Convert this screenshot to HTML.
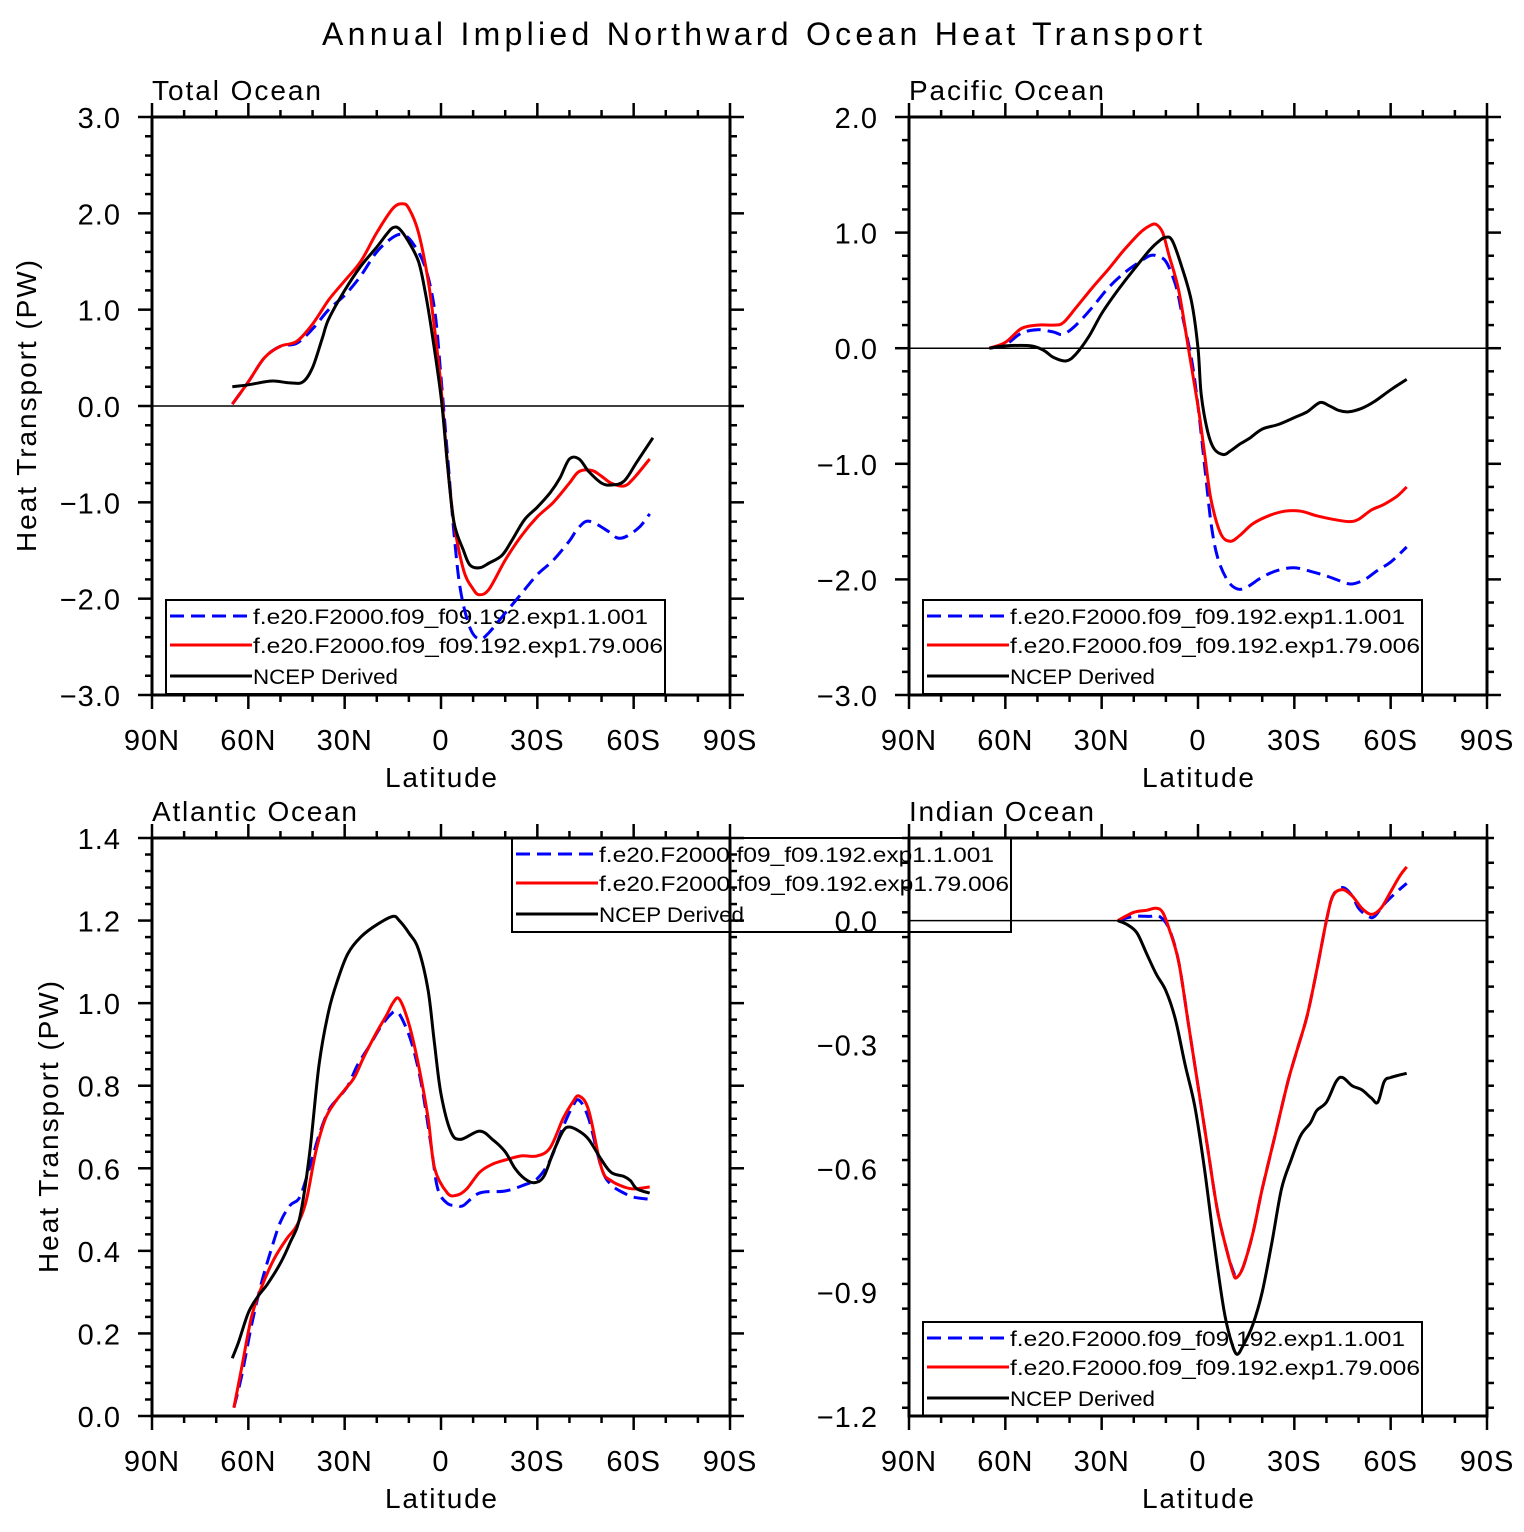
<!DOCTYPE html>
<html><head><meta charset="utf-8"><style>
html,body{margin:0;padding:0;background:#fff;}
svg text{font-family:"Liberation Sans",sans-serif;fill:#000;}
</style></head><body>
<svg id="chart" width="1524" height="1527" viewBox="0 0 1524 1527" xmlns="http://www.w3.org/2000/svg">
<rect width="1524" height="1527" fill="#fff"/>
<text x="762" y="45" font-size="32" text-anchor="middle" textLength="880" lengthAdjust="spacing">Annual Implied Northward Ocean Heat Transport</text>
<g id="legends"></g><g id="axes"></g><g id="series"></g>
</svg>
<script>
// ---- data (lat in degrees, + = North) ----
const totalBlueLat=[65,60,55,50,45,40,35,30,25,20,15,12,9,5,2,0,-2,-4,-6,-9,-12,-15,-20,-25,-30,-35,-40,-42,-45,-48,-52,-55,-58,-62,-65];
const totalBlueVal=[0.02,0.25,0.5,0.62,0.65,0.8,1.0,1.15,1.35,1.6,1.75,1.78,1.7,1.45,1.0,0.3,-0.5,-1.3,-1.9,-2.3,-2.42,-2.35,-2.15,-1.95,-1.75,-1.6,-1.4,-1.3,-1.2,-1.22,-1.3,-1.37,-1.35,-1.25,-1.12];
const totalRedLat=[65,60,55,50,45,40,35,30,25,20,15,12,10,7,4,2,0,-2,-4,-7,-10,-12,-15,-20,-25,-30,-35,-40,-43,-47,-50,-53,-57,-60,-65];
const totalRedVal=[0.02,0.25,0.5,0.62,0.67,0.85,1.1,1.3,1.5,1.8,2.05,2.1,2.05,1.8,1.3,0.8,0.2,-0.6,-1.2,-1.7,-1.9,-1.96,-1.9,-1.6,-1.35,-1.15,-1.0,-0.8,-0.68,-0.67,-0.73,-0.8,-0.83,-0.75,-0.55];
const totalBlackLat=[65,60,55,52,47,43,40,37,35,30,25,20,17,15,13,10,7,5,3,0,-2,-4,-7,-9,-12,-15,-19,-22,-26,-30,-34,-37,-40,-43,-46,-50,-53,-57,-61,-66];
const totalBlackVal=[0.2,0.22,0.25,0.26,0.24,0.25,0.4,0.7,0.9,1.2,1.45,1.65,1.78,1.85,1.84,1.7,1.5,1.2,0.8,0.1,-0.6,-1.2,-1.5,-1.65,-1.68,-1.63,-1.55,-1.4,-1.18,-1.05,-0.9,-0.75,-0.55,-0.55,-0.68,-0.8,-0.82,-0.78,-0.58,-0.33];

const pacBlueLat=[65,60,55,50,45,42,38,33,28,23,18,15,13,10,7,5,2,0,-2,-4,-6,-9,-12,-15,-20,-25,-30,-35,-40,-45,-48,-52,-56,-60,-65];
const pacBlueVal=[0,0.03,0.13,0.16,0.14,0.12,0.2,0.35,0.52,0.65,0.75,0.8,0.8,0.75,0.55,0.3,-0.1,-0.5,-1.0,-1.5,-1.8,-2.0,-2.08,-2.07,-1.98,-1.92,-1.9,-1.93,-1.97,-2.02,-2.04,-2.0,-1.92,-1.85,-1.72];
const pacRedLat=[65,60,55,50,45,42,38,33,28,23,18,15,13,11,9,6,3,0,-2,-4,-7,-10,-13,-17,-22,-27,-32,-37,-42,-47,-50,-54,-58,-62,-65];
const pacRedVal=[0,0.05,0.17,0.2,0.2,0.22,0.35,0.52,0.68,0.85,1.0,1.06,1.07,1.0,0.8,0.5,0.0,-0.5,-0.9,-1.3,-1.6,-1.67,-1.62,-1.52,-1.45,-1.41,-1.41,-1.45,-1.48,-1.5,-1.48,-1.4,-1.35,-1.28,-1.2];
const pacBlackLat=[65,60,52,48,45,41,38,34,30,25,20,15,12,10,8,5,2,0,-1,-3,-5,-8,-10,-13,-16,-20,-25,-30,-34,-38,-41,-44,-47,-51,-55,-60,-65];
const pacBlackVal=[0,0.02,0.02,-0.02,-0.08,-0.11,-0.05,0.1,0.3,0.5,0.68,0.85,0.93,0.96,0.93,0.7,0.4,0.0,-0.4,-0.72,-0.87,-0.92,-0.89,-0.83,-0.78,-0.7,-0.66,-0.6,-0.55,-0.47,-0.5,-0.54,-0.55,-0.52,-0.46,-0.36,-0.27];

const atlBlueLat=[64.5,62,59,56,53,50,47,44,41,38,35,32,29,26,22,19,16,14,12,9,6,3,1,-2,-5,-7,-12,-20,-26,-30,-34,-38,-41,-43,-46,-50,-53,-57,-60,-65];
const atlBlueVal=[0.02,0.1,0.22,0.32,0.4,0.47,0.51,0.53,0.6,0.68,0.74,0.77,0.8,0.85,0.9,0.94,0.97,0.98,0.96,0.9,0.8,0.65,0.55,0.515,0.51,0.51,0.54,0.545,0.56,0.575,0.62,0.7,0.75,0.765,0.72,0.6,0.56,0.54,0.53,0.525];
const atlRedLat=[64.5,62,59,56,52,48,45,42,39,36,33,30,27,24,20,17,15,13,10,7,4,2,-2,-5,-8,-12,-16,-20,-25,-30,-34,-38,-41,-43,-46,-50,-53,-57,-60,-65];
const atlRedVal=[0.02,0.12,0.24,0.31,0.38,0.43,0.46,0.52,0.64,0.72,0.76,0.79,0.82,0.87,0.93,0.97,1.0,1.01,0.95,0.85,0.72,0.6,0.54,0.535,0.55,0.59,0.61,0.62,0.63,0.63,0.65,0.72,0.76,0.775,0.74,0.6,0.57,0.555,0.55,0.555];
const atlBlackLat=[65,63,60,57,54,50,47,44,41,38,35,32,29,25,20,15,13,10,7,4,2,0,-3,-6,-12,-16,-20,-23,-26,-29,-32,-35,-38,-40,-43,-46,-50,-53,-57,-59,-61,-65];
const atlBlackVal=[0.14,0.18,0.25,0.29,0.32,0.37,0.42,0.48,0.63,0.85,0.98,1.06,1.12,1.16,1.19,1.21,1.2,1.17,1.13,1.03,0.9,0.78,0.69,0.67,0.69,0.67,0.64,0.6,0.575,0.565,0.58,0.64,0.69,0.7,0.69,0.67,0.62,0.59,0.58,0.57,0.55,0.54];

const indBlueLat=[25,20,15,12,9,6,3,0,-3,-6,-9,-11,-12,-14,-17,-20,-24,-28,-31,-34,-37,-40,-42,-45,-48,-50,-53,-55,-58,-62,-65];
const indBlueVal=[0,0.01,0.01,0.01,-0.02,-0.1,-0.25,-0.4,-0.55,-0.7,-0.8,-0.85,-0.86,-0.84,-0.76,-0.65,-0.52,-0.39,-0.31,-0.23,-0.12,0.0,0.06,0.08,0.06,0.03,0.01,0.01,0.04,0.07,0.09];
const indRedLat=[25,20,16,13,11,9,6,3,0,-3,-6,-9,-11,-12,-14,-17,-20,-24,-28,-31,-34,-37,-40,-42,-45,-48,-51,-54,-57,-60,-63,-65];
const indRedVal=[0,0.02,0.025,0.03,0.02,-0.02,-0.1,-0.25,-0.4,-0.55,-0.7,-0.8,-0.855,-0.865,-0.84,-0.76,-0.65,-0.52,-0.39,-0.31,-0.23,-0.12,0.0,0.06,0.075,0.06,0.03,0.015,0.03,0.07,0.11,0.13];
const indBlackLat=[25,22,19,16,13,10,7,4,1,-2,-5,-8,-10,-12,-14,-17,-20,-23,-26,-29,-32,-35,-37,-40,-43,-45,-48,-51,-54,-56,-58,-60,-65];
const indBlackVal=[0,-0.01,-0.03,-0.08,-0.13,-0.17,-0.24,-0.35,-0.45,-0.6,-0.78,-0.94,-1.01,-1.05,-1.03,-0.98,-0.9,-0.78,-0.65,-0.58,-0.52,-0.49,-0.46,-0.44,-0.39,-0.38,-0.4,-0.41,-0.43,-0.44,-0.39,-0.38,-0.37];

const xTickLabels=["90N","60N","30N","0","30S","60S","90S"];
const xTickLats=[90,60,30,0,-30,-60,-90];
const totalTicks=[3.0,2.0,1.0,0.0,-1.0,-2.0,-3.0];
const pacTicks=[2.0,1.0,0.0,-1.0,-2.0,-3.0];
const atlTicks=[1.4,1.2,1.0,0.8,0.6,0.4,0.2,0.0];
const indTicks=[0.0,-0.3,-0.6,-0.9,-1.2];
const legendLabels=["f.e20.F2000.f09_f09.192.exp1.1.001","f.e20.F2000.f09_f09.192.exp1.79.006","NCEP Derived"];

const NS="http://www.w3.org/2000/svg";
const AX=document.getElementById('axes'),LG=document.getElementById('legends'),SR=document.getElementById('series');
function mk(tag,attrs,parent){const e=document.createElementNS(NS,tag);for(const k in attrs)e.setAttribute(k,attrs[k]);parent.appendChild(e);return e;}
function smoothPath(P){
  let d='M'+P[0][0].toFixed(1)+','+P[0][1].toFixed(1);
  for(let i=0;i<P.length-1;i++){
    const p0=P[Math.max(0,i-1)],p1=P[i],p2=P[i+1],p3=P[Math.min(P.length-1,i+2)];
    const c1=[p1[0]+(p2[0]-p0[0])/6,p1[1]+(p2[1]-p0[1])/6];
    const c2=[p2[0]-(p3[0]-p1[0])/6,p2[1]-(p3[1]-p1[1])/6];
    d+=`C${c1[0].toFixed(1)},${c1[1].toFixed(1)} ${c2[0].toFixed(1)},${c2[1].toFixed(1)} ${p2[0].toFixed(1)},${p2[1].toFixed(1)}`;
  }
  return d;
}
const styles=[['#0000ff','14,7'],['#ff0000',''],['#000','']];
function panel(cfg){
  const g=mk('g',{},AX);
  
  
  const L=cfg.x0,R=cfg.x0+578,T=cfg.y0,B=cfg.y0+578;
  const xs=lat=>L+(90-lat)*578/180;
  const ys=v=>T+(cfg.ymax-v)*578/(cfg.ymax-cfg.ymin);
  for(let lat=90;lat>=-90;lat-=10){
    const major=lat%30===0;const len=major?14:7;const x=xs(lat);
    const t1=mk('line',{x1:x,y1:B,x2:x,y2:B+len,stroke:'#000','stroke-width':2.5},g);
    
    
    const t2=mk('line',{x1:x,y1:T,x2:x,y2:T-len,stroke:'#000','stroke-width':2.5},g);
    
    
  }
  const n=Math.round((cfg.ymax-cfg.ymin)/cfg.minor);
  for(let i=0;i<=n;i++){
    const v=cfg.ymax-i*cfg.minor;const y=ys(v);
    const major=cfg.ticks.some(t=>Math.abs(t-v)<1e-6);const len=major?14:7;
    const t1=mk('line',{x1:L-len,y1:y,x2:L,y2:y,stroke:'#000','stroke-width':2.5},g);
    
    
    const t2=mk('line',{x1:R,y1:y,x2:R+len,y2:y,stroke:'#000','stroke-width':2.5},g);
    
    
  }
  cfg.ticks.forEach(v=>{
    const t=mk('text',{x:L-31,y:ys(v)+11,'font-size':29,'text-anchor':'end','letter-spacing':1},g);
    t.textContent=(v<0?'\u2212':'')+Math.abs(v).toFixed(1);
    
    
  });
  xTickLats.forEach((lat,i)=>{
    const t=mk('text',{x:xs(lat),y:B+55,'font-size':29,'text-anchor':'middle','letter-spacing':1},g);
    t.textContent=xTickLabels[i];
    
    
  });
  const z=mk('line',{x1:L,y1:ys(0),x2:R,y2:ys(0),stroke:'#000','stroke-width':1.5},g);
  
  
  const f=mk('rect',{x:L,y:T,width:578,height:578,fill:'none',stroke:'#000','stroke-width':3},g);
  
  
  const pt=mk('text',{x:L,y:T-17,'font-size':28,textLength:cfg.titleLen,lengthAdjust:'spacing'},g);
  pt.textContent=cfg.title;
  
  
  const xt=mk('text',{x:L+289,y:B+92,'font-size':28,'text-anchor':'middle',textLength:112,lengthAdjust:'spacing'},g);
  xt.textContent='Latitude';
  
  
  if(cfg.ytx>0){
    const yt=mk('text',{x:0,y:0,'font-size':28,'text-anchor':'middle',textLength:292,lengthAdjust:'spacing',transform:`translate(${cfg.ytx},${T+289}) rotate(-90)`},g);
    yt.textContent='Heat Transport (PW)';
    
    
  }
  const lg=mk('g',{},LG);
  
  
  const lx=cfg.leg[0],ly=cfg.leg[1];
  mk('rect',{x:lx,y:ly,width:499,height:94,fill:'#fff',stroke:'#000','stroke-width':2},lg);
  [16,45,76].forEach((dy,i)=>{
    const ln=mk('line',{x1:lx+4,y1:ly+dy,x2:lx+86,y2:ly+dy,stroke:styles[i][0],'stroke-width':3},lg);
    if(styles[i][1])ln.setAttribute('stroke-dasharray',styles[i][1]);
    
    
    const t=mk('text',{x:lx+87,y:ly+dy+8,'font-size':21,textLength:[395,410,145][i],lengthAdjust:'spacingAndGlyphs'},lg);
    t.textContent=legendLabels[i];
    
    
  });
  const sg=mk('g',{},SR);
  
  
  cfg.series.forEach((s,si)=>{
    const P=s[0].map((lat,i)=>[xs(lat),ys(s[1][i])]);
    const p=mk('path',{d:smoothPath(P),fill:'none',stroke:styles[si][0],'stroke-width':3,'stroke-linejoin':'round'},sg);
    if(styles[si][1])p.setAttribute('stroke-dasharray',styles[si][1]);
    
    
  });
}
panel({name:'total-ocean-panel',title:'Total Ocean',titleLen:169,x0:152,y0:117,ymax:3,ymin:-3,minor:0.2,ticks:totalTicks,ytx:36,leg:[166,600],
  series:[[totalBlueLat,totalBlueVal],[totalRedLat,totalRedVal],[totalBlackLat,totalBlackVal]]});
panel({name:'pacific-ocean-panel',title:'Pacific Ocean',titleLen:195,x0:909,y0:117,ymax:2,ymin:-3,minor:0.2,ticks:pacTicks,ytx:0,leg:[923,600],
  series:[[pacBlueLat,pacBlueVal],[pacRedLat,pacRedVal],[pacBlackLat,pacBlackVal]]});
panel({name:'atlantic-ocean-panel',title:'Atlantic Ocean',titleLen:205,x0:152,y0:838,ymax:1.4,ymin:0,minor:0.04,ticks:atlTicks,ytx:58,leg:[512,838],
  series:[[atlBlueLat,atlBlueVal],[atlRedLat,atlRedVal],[atlBlackLat,atlBlackVal]]});
panel({name:'indian-ocean-panel',title:'Indian Ocean',titleLen:185,x0:909,y0:838,ymax:0.2,ymin:-1.2,minor:0.06,ticks:indTicks,ytx:0,leg:[923,1322],
  series:[[indBlueLat,indBlueVal],[indRedLat,indRedVal],[indBlackLat,indBlackVal]]});
</script>
</body></html>
